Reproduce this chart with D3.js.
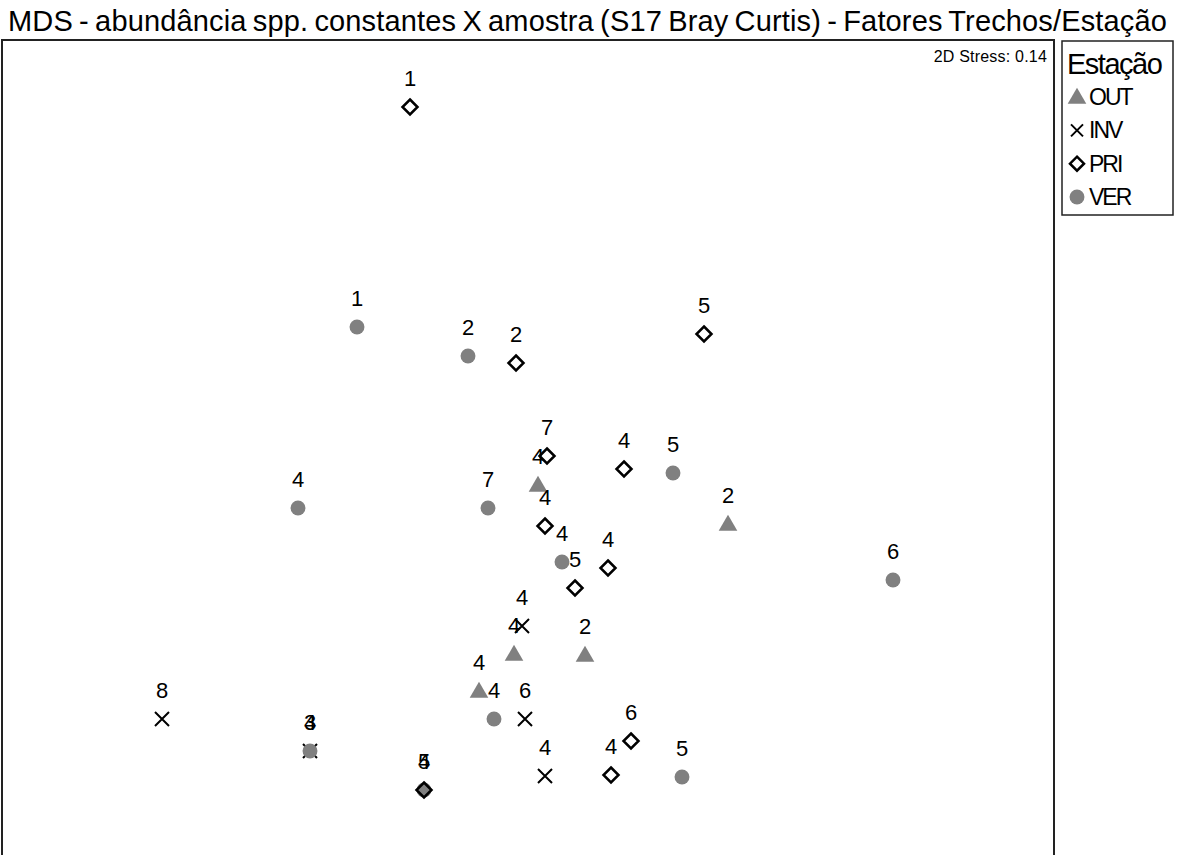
<!DOCTYPE html>
<html>
<head>
<meta charset="utf-8">
<script src="https://d3js.org/d3.v7.min.js"></script>
<style>
  body { margin: 0; background: #fff; }
  text { font-family: "Liberation Sans", Arial, sans-serif; }
</style>
</head>
<body>
<div id="my_dataviz"></div>
<script>

// MDS coordinates, one array per station (Estação)
var outX = [0.04, 0.99, -0.08, 0.275, -0.255];
var outY = [-0.175, -0.37, -1.02, -1.025, -1.205];
var outLab = ["4", "2", "4", "2", "4"];

var invX = [-0.04, -1.84, -1.10, -0.025, 0.075];
var invY = [-0.88, -1.345, -1.505, -1.345, -1.63];
var invLab = ["4", "8", "4", "6", "4"];

var verX = [-0.865, -0.31, 0.715, -1.16, -0.21, 0.16, 1.815, -0.18, 0.76, -1.10, -0.53];
var verY = [0.615, 0.47, -0.115, -0.29, -0.29, -0.56, -0.65, -1.345, -1.635, -1.505, -1.70];
var verLab = ["1", "2", "5", "4", "7", "4", "6", "4", "5", "3", "4"];

var priX = [-0.60, -0.07, 0.87, 0.085, 0.47, 0.075, 0.39, 0.225, 0.505, 0.405, -0.53];
var priY = [1.715, 0.435, 0.58, -0.03, -0.095, -0.38, -0.59, -0.69, -1.455, -1.625, -1.70];
var priLab = ["1", "2", "5", "7", "4", "4", "4", "5", "6", "4", "5"];

var stations = ["OUT", "INV", "PRI", "VER"];

var width = 1179, height = 855;
var grey = "#808080";

var svg = d3.select("#my_dataviz")
  .append("svg")
  .attr("width", width)
  .attr("height", height);

// plot frame
var frame = {left: 2, top: 40, right: 1054, bottom: 870};

var x = d3.scaleLinear().domain([-2.64, 2.62]).range([frame.left, frame.right]);
var y = d3.scaleLinear().domain([-2.1, 2.05]).range([frame.bottom, frame.top]);

// title
svg.append("text")
  .attr("x", 8)
  .attr("y", 31)
  .style("font-size", "29px")
  .style("letter-spacing", "0.15px")
  .style("word-spacing", "-2px")
  .text("MDS - abundância spp. constantes X amostra (S17 Bray Curtis) - Fatores Trechos/Estação");

svg.append("rect")
  .attr("x", frame.left)
  .attr("y", frame.top)
  .attr("width", frame.right - frame.left)
  .attr("height", frame.bottom - frame.top)
  .attr("fill", "none")
  .attr("stroke", "#222")
  .attr("stroke-width", 2);

svg.append("text")
  .attr("x", 1047)
  .attr("y", 62)
  .attr("text-anchor", "end")
  .style("font-size", "16px")
  .style("letter-spacing", "0.2px")
  .text("2D Stress: 0.14");

function zip(xs, ys, labs) {
  return xs.map(function(v, i) { return {x: v, y: ys[i], label: labs[i]}; });
}

var symTriangle = d3.symbol().type(d3.symbolTriangle).size(150);
var symCircle = d3.symbol().type(d3.symbolCircle).size(175);

function diamondPath(s) {
  return "M0," + (-s) + "L" + s + ",0L0," + s + "L" + (-s) + ",0Z";
}
function crossPath(s) {
  return "M" + (-s) + "," + (-s) + "L" + s + "," + s + "M" + (-s) + "," + s + "L" + s + "," + (-s);
}

function drawGroup(data, draw) {
  var g = svg.append("g");
  var pts = g.selectAll("g")
    .data(data)
    .enter()
    .append("g")
    .attr("transform", function(d) { return "translate(" + x(d.x) + "," + y(d.y) + ")"; });
  draw(pts);
  return g;
}

function drawLabels(data) {
  svg.append("g").selectAll("text")
    .data(data)
    .enter()
    .append("text")
    .attr("x", function(d) { return x(d.x); })
    .attr("y", function(d) { return y(d.y) - 21; })
    .attr("text-anchor", "middle")
    .style("font-size", "22px")
    .text(function(d) { return d.label; });
}

var outData = zip(outX, outY, outLab);
var invData = zip(invX, invY, invLab);
var verData = zip(verX, verY, verLab);
var priData = zip(priX, priY, priLab);

// OUT - grey triangles
drawGroup(outData, function(p) {
  p.append("path").attr("d", symTriangle).attr("transform", "translate(0,1.5)").attr("fill", grey);
});
// INV - crosses
drawGroup(invData, function(p) {
  p.append("path").attr("d", crossPath(7)).attr("fill", "none").attr("stroke", "#000").attr("stroke-width", 2);
});
// VER - grey circles
drawGroup(verData, function(p) {
  p.append("path").attr("d", symCircle).attr("fill", grey);
});
// PRI - open diamonds
drawGroup(priData, function(p) {
  p.append("path").attr("d", diamondPath(7.5)).attr("fill", "none").attr("stroke", "#000").attr("stroke-width", 2.5);
});

drawLabels(outData);
drawLabels(invData);
drawLabels(verData);
drawLabels(priData);

// legend
var legend = svg.append("g");
legend.append("rect")
  .attr("x", 1062)
  .attr("y", 41)
  .attr("width", 111)
  .attr("height", 174)
  .attr("fill", "none")
  .attr("stroke", "#222")
  .attr("stroke-width", 1.5);

legend.append("text")
  .attr("x", 1067)
  .attr("y", 74)
  .style("font-size", "29px")
  .style("letter-spacing", "-1.5px")
  .text("Estação");

var ly = d3.scalePoint().domain(stations).range([97, 197]);

var items = legend.selectAll(".item")
  .data(stations)
  .enter()
  .append("g")
  .attr("class", "item")
  .attr("transform", function(d) { return "translate(1077," + ly(d) + ")"; });

items.each(function(d) {
  var g = d3.select(this);
  if (d === "OUT") g.append("path").attr("d", symTriangle).attr("transform", "translate(0,1.5)").attr("fill", grey);
  if (d === "INV") g.append("path").attr("d", crossPath(6)).attr("fill", "none").attr("stroke", "#000").attr("stroke-width", 2);
  if (d === "PRI") g.append("path").attr("d", diamondPath(7)).attr("fill", "none").attr("stroke", "#000").attr("stroke-width", 2.5);
  if (d === "VER") g.append("path").attr("d", symCircle).attr("fill", grey);
});

items.append("text")
  .attr("x", 12)
  .attr("y", 8)
  .style("font-size", "23px")
  .style("letter-spacing", "-2px")
  .text(function(d) { return d; });

</script>
</body>
</html>
